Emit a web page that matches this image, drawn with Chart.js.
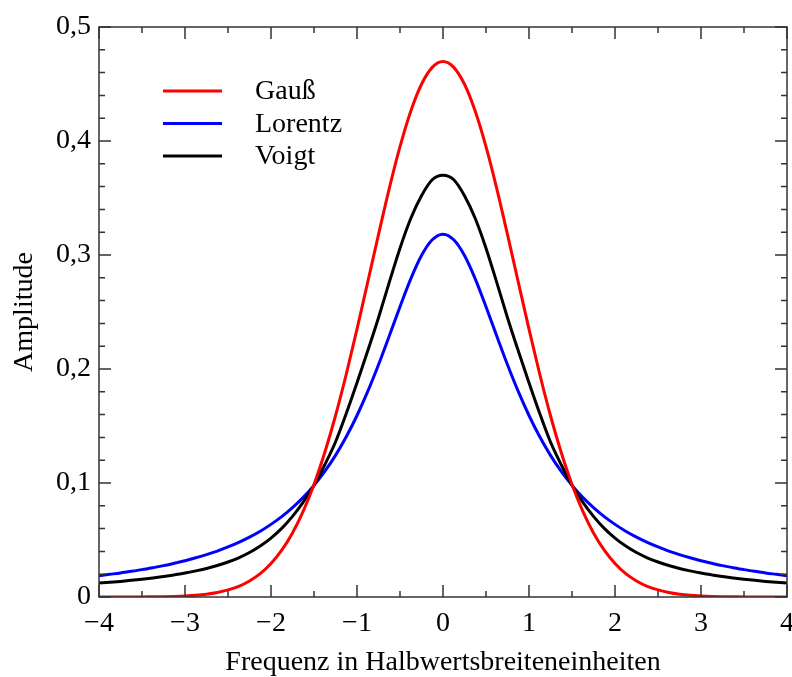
<!DOCTYPE html>
<html>
<head>
<meta charset="utf-8">
<script src="https://cdn.jsdelivr.net/npm/chart.js@4"></script>
<style>
  html, body { margin: 0; padding: 0; background: #fff; }
  #wrap { width: 792px; height: 677px; }
</style>
</head>
<body>
<div id="wrap"><canvas id="myChart" width="792" height="677"></canvas></div>
<script>
// Frequenz in Halbwertsbreiteneinheiten
const xValues = [-4, -3.875, -3.75, -3.625, -3.5, -3.375, -3.25, -3.125, -3, -2.875, -2.75, -2.625, -2.5, -2.375, -2.25, -2.125,
  -2, -1.875, -1.75, -1.625, -1.5, -1.375, -1.25, -1.125, -1, -0.875, -0.75, -0.625, -0.5, -0.375, -0.25, -0.125,
  0, 0.125, 0.25, 0.375, 0.5, 0.625, 0.75, 0.875, 1, 1.125, 1.25, 1.375, 1.5, 1.625, 1.75, 1.875,
  2, 2.125, 2.25, 2.375, 2.5, 2.625, 2.75, 2.875, 3, 3.125, 3.25, 3.375, 3.5, 3.625, 3.75, 3.875, 4];

const gaussValues = [0, 0, 0, 0, 0.0001, 0.0002, 0.0003, 0.0005, 0.0009, 0.0015, 0.0025, 0.0040, 0.0062, 0.0094, 0.0141, 0.0205,
  0.0294, 0.0411, 0.0562, 0.0753, 0.0987, 0.1267, 0.159, 0.1954, 0.235, 0.2763, 0.318, 0.3583, 0.395, 0.4261, 0.4498, 0.4646,
  0.4697, 0.4646, 0.4498, 0.4261, 0.395, 0.3583, 0.318, 0.2763, 0.235, 0.1954, 0.159, 0.1267, 0.0987, 0.0753, 0.0562, 0.0411,
  0.0294, 0.0205, 0.0141, 0.0094, 0.0062, 0.0040, 0.0025, 0.0015, 0.0009, 0.0005, 0.0003, 0.0002, 0.0001, 0, 0, 0, 0];

const lorentzValues = [0.0187, 0.0199, 0.0211, 0.0225, 0.0240, 0.0257, 0.0275, 0.0296, 0.0318, 0.0344, 0.0372, 0.0403, 0.0439, 0.0479, 0.0525, 0.0577,
  0.0637, 0.0705, 0.0784, 0.0874, 0.0979, 0.1101, 0.1242, 0.1405, 0.1592, 0.1803, 0.2037, 0.2289, 0.2546, 0.2791, 0.2996, 0.3134,
  0.3183, 0.3134, 0.2996, 0.2791, 0.2546, 0.2289, 0.2037, 0.1803, 0.1592, 0.1405, 0.1242, 0.1101, 0.0979, 0.0874, 0.0784, 0.0705,
  0.0637, 0.0577, 0.0525, 0.0479, 0.0439, 0.0403, 0.0372, 0.0344, 0.0318, 0.0296, 0.0275, 0.0257, 0.0240, 0.0225, 0.0211, 0.0199, 0.0187];

const voigtValues = [0.0122, 0.0129, 0.0137, 0.0146, 0.0156, 0.0167, 0.0179, 0.0194, 0.0210, 0.0229, 0.0250, 0.0276, 0.0307, 0.0344, 0.0390, 0.0447,
  0.0517, 0.0602, 0.0707, 0.0832, 0.098, 0.116, 0.136, 0.161, 0.188, 0.216, 0.245, 0.276, 0.306, 0.332, 0.352, 0.366,
  0.370, 0.366, 0.352, 0.332, 0.306, 0.276, 0.245, 0.216, 0.188, 0.161, 0.136, 0.116, 0.098, 0.0832, 0.0707, 0.0602,
  0.0517, 0.0447, 0.0390, 0.0344, 0.0307, 0.0276, 0.0250, 0.0229, 0.0210, 0.0194, 0.0179, 0.0167, 0.0156, 0.0146, 0.0137, 0.0129, 0.0122];

const seriesLabels = ['Gauß', 'Lorentz', 'Voigt'];
const xTitle = 'Frequenz in Halbwertsbreiteneinheiten';
const yTitle = 'Amplitude';

const FONT = '"Liberation Serif", "Times New Roman", serif';
const FRAME = '#333333';

const toPoints = (ys) => xValues.map((x, i) => ({ x: x, y: ys[i] }));

// frame + inward ticks on all four sides, plus the legend inside the plot
const framePlugin = {
  id: 'frame',
  afterDraw(chart) {
    const ctx = chart.ctx;
    const a = chart.chartArea;
    const xs = chart.scales.x;
    const ys = chart.scales.y;
    ctx.save();
    ctx.strokeStyle = FRAME;
    ctx.lineWidth = 1.5;
    ctx.strokeRect(a.left, a.top, a.right - a.left, a.bottom - a.top);

    const tickSets = (scale, minorCount) => {
      const vals = scale.ticks.map(t => t.value);
      const major = vals.map(v => scale.getPixelForValue(v));
      const minor = [];
      for (let i = 0; i < vals.length - 1; i++) {
        const step = (vals[i + 1] - vals[i]) / minorCount;
        for (let k = 1; k < minorCount; k++) minor.push(scale.getPixelForValue(vals[i] + k * step));
      }
      return { major, minor };
    };

    const xt = tickSets(xs, 2);
    const yt = tickSets(ys, 5);
    ctx.beginPath();
    const drawX = (px, len) => {
      ctx.moveTo(px, a.bottom); ctx.lineTo(px, a.bottom - len);
      ctx.moveTo(px, a.top); ctx.lineTo(px, a.top + len);
    };
    const drawY = (py, len) => {
      ctx.moveTo(a.left, py); ctx.lineTo(a.left + len, py);
      ctx.moveTo(a.right, py); ctx.lineTo(a.right - len, py);
    };
    xt.major.forEach(p => drawX(p, 12));
    xt.minor.forEach(p => drawX(p, 6));
    yt.major.forEach(p => drawY(p, 12));
    yt.minor.forEach(p => drawY(p, 6));
    ctx.stroke();

    // legend
    ctx.font = '28px ' + FONT;
    ctx.textBaseline = 'middle';
    ctx.textAlign = 'left';
    chart.data.datasets.forEach((ds, i) => {
      const y = 91 + i * 32.5;
      ctx.strokeStyle = ds.borderColor;
      ctx.lineWidth = 3;
      ctx.beginPath();
      ctx.moveTo(163, y);
      ctx.lineTo(222, y);
      ctx.stroke();
      ctx.fillStyle = '#000';
      ctx.fillText(ds.label, 255, y + 1);
    });
    ctx.restore();
  }
};

const ctx = document.getElementById('myChart').getContext('2d');
new Chart(ctx, {
  type: 'line',
  data: {
    datasets: [
      { label: seriesLabels[0], data: toPoints(gaussValues), borderColor: '#ff0000', order: 0 },
      { label: seriesLabels[1], data: toPoints(lorentzValues), borderColor: '#0000ff', order: 2 },
      { label: seriesLabels[2], data: toPoints(voigtValues), borderColor: '#000000', order: 1 }
    ]
  },
  options: {
    responsive: false,
    animation: false,
    devicePixelRatio: 1,
    layout: { padding: { left: 0, top: 27, right: 5, bottom: 0 } },
    elements: {
      point: { radius: 0 },
      line: { borderWidth: 3, cubicInterpolationMode: 'monotone', fill: false }
    },
    plugins: {
      legend: { display: false },
      tooltip: { enabled: false }
    },
    scales: {
      x: {
        type: 'linear',
        min: -4,
        max: 4,
        grid: { display: false, drawTicks: false },
        border: { display: false },
        ticks: {
          stepSize: 1,
          padding: 10,
          color: '#000',
          font: { family: FONT, size: 28 },
          callback: (v) => (v < 0 ? '\u2212' + Math.abs(v) : String(v))
        },
        title: {
          display: true,
          text: xTitle,
          color: '#000',
          font: { family: FONT, size: 28, lineHeight: 1 },
          padding: { top: 0, bottom: 0 }
        },
        afterFit: (s) => { s.height = 80; s.paddingRight = 0; s.paddingLeft = 0; }
      },
      y: {
        min: 0,
        max: 0.5,
        grid: { display: false, drawTicks: false },
        border: { display: false },
        ticks: {
          stepSize: 0.1,
          padding: 8,
          color: '#000',
          font: { family: FONT, size: 28 },
          callback: (v) => (v === 0 ? '0' : v.toFixed(1).replace('.', ','))
        },
        title: {
          display: true,
          text: yTitle,
          color: '#000',
          font: { family: FONT, size: 28, lineHeight: 1 },
          padding: { top: 11, bottom: 0 }
        },
        afterFit: (s) => { s.width = 99; s.paddingTop = 0; s.paddingBottom = 0; }
      }
    }
  },
  plugins: [framePlugin]
});
</script>
</body>
</html>
